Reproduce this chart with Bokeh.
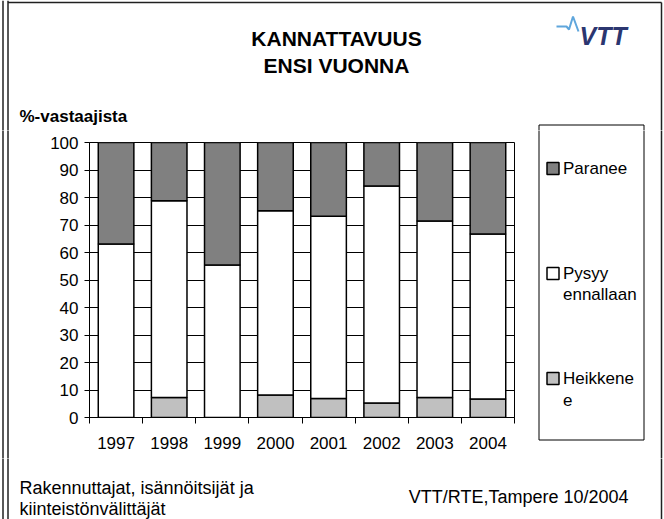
from bokeh.plotting import figure
from bokeh.layouts import column, row
from bokeh.models import FixedTicker, Range1d, ColumnDataSource
from bokeh.core.properties import value
from bokeh.embed import file_html
from bokeh.resources import INLINE

# ---------------- data ----------------
years = ["1997", "1998", "1999", "2000", "2001", "2002", "2003", "2004"]
heikkenee = [0.0, 7.3, 0.0, 8.2, 6.9, 5.3, 7.3, 6.7]
pysyy = [63.1, 71.5, 55.5, 67.0, 66.3, 78.9, 64.2, 60.0]
paranee = [36.9, 21.2, 44.5, 24.8, 26.8, 15.8, 28.5, 33.3]
y_ticks = [0, 10, 20, 30, 40, 50, 60, 70, 80, 90, 100]

series_keys = ["heikkenee", "pysyy", "paranee"]
series_colors = ["#c0c0c0", "#ffffff", "#808080"]
legend_texts = ["Paranee", "Pysyy\nennallaan", "Heikkene\ne"]
legend_colors = ["#808080", "#ffffff", "#c0c0c0"]

title_lines = ["KANNATTAVUUS", "ENSI VUONNA"]
y_label = "%-vastaajista"
footer_left = ["Rakennuttajat, isännöitsijät ja", "kiinteistönvälittäjät"]
footer_right = "VTT/RTE,Tampere 10/2004"
logo_text = "VTT"

FONT = "Liberation Sans"

# ---------------- layout (page pixels) ----------------
W, H = 664, 519
HEAD_H = 130          # head strip: y 0..130
MID_B = 458           # middle row: y 130..458
STRIP_W = 10          # left strip holding the double frame line
CHART_R = 530         # chart figure x 10..530, legend figure 530..664
FL, FR, FT, FB = 89, 514, 142, 417   # plot frame


def aux(x0, x1, y0, y1):
    f = figure(width=x1 - x0, height=y1 - y0, output_backend="svg", toolbar_location=None,
               x_range=Range1d(x0, x1), y_range=Range1d(y1, y0),
               x_axis_type=None, y_axis_type=None, min_border=0, frame_align=False)
    f.grid.visible = False
    f.outline_line_color = None
    f.background_fill_color = "white"
    f.border_fill_color = "white"
    return f


def txt(f, s, x, y, size="17px", align="left", style="normal", color="black"):
    f.text(x=[x], y=[y], text=[s], text_font=value(FONT), text_font_size=value(size),
           text_font_style=style, text_color=color, text_align=align,
           text_baseline="middle")


def shapes(f):
    # page frame (double line on the left)
    for xv in (2.5, 7.5):
        f.line(x=[xv, xv], y=[0, 600], line_color="#202020", line_width=1.5)
    f.line(x=[7.5, 661], y=[2, 2], line_color="#202020", line_width=1.5)
    f.line(x=[661, 661], y=[2, 600], line_color="#202020", line_width=1.5)
    # legend box and keys
    f.quad(left=[538.5], right=[643.5], top=[124.5], bottom=[439.5],
           fill_alpha=0, line_color="black", line_width=1)
    for k, col in enumerate(legend_colors):
        top = [162, 267, 372][k]
        f.quad(left=[546.5], right=[558.5], top=[top], bottom=[top + 12],
               fill_color=col, line_color="black", line_width=1.5)


head = aux(0, W, 0, HEAD_H)
strip = aux(0, STRIP_W, HEAD_H, MID_B)
leg = aux(CHART_R, W, HEAD_H, MID_B)
foot = aux(0, W, MID_B, H)
for f in (head, strip, leg, foot):
    shapes(f)

# head texts
txt(head, title_lines[0], 336, 38, size="21px", align="center", style="bold")
txt(head, title_lines[1], 336, 65, size="21px", align="center", style="bold")
txt(head, y_label, 19, 116, style="bold")
head.line(x=[556, 566, 568.5, 572.5, 578], y=[26, 26, 29, 16, 31],
          line_color="#5fa6dc", line_width=2)
txt(head, logo_text, 579, 35, size="25px", style="bold italic", color="#2b3670")

# legend texts
for k, t in enumerate(legend_texts):
    top = [162, 267, 372][k]
    for j, ln in enumerate(t.split("\n")):
        txt(leg, ln, 562.5, top + 6 + 21 * j)

# footer texts
txt(foot, footer_left[0], 19, 487, size="18px")
txt(foot, footer_left[1], 19, 508, size="18px")
txt(foot, footer_right, 628, 496, size="18px", align="right")

# ---------------- chart ----------------
xs = list(range(len(years)))
source = ColumnDataSource(dict(x=xs, heikkenee=heikkenee, pysyy=pysyy, paranee=paranee))

p = figure(width=CHART_R - STRIP_W, height=MID_B - HEAD_H, output_backend="svg",
           toolbar_location=None, frame_align=False,
           x_range=Range1d(-0.5, len(years) - 0.5), y_range=Range1d(0, 100),
           min_border_left=FL - STRIP_W, min_border_right=CHART_R - FR,
           min_border_top=FT - HEAD_H, min_border_bottom=MID_B - FB)
p.background_fill_color = "white"
p.border_fill_color = "white"
p.outline_line_color = "black"
p.outline_line_width = 1

p.vbar_stack(series_keys, x="x", width=0.67, color=series_colors,
             line_color="black", line_width=1.5, source=source)

yt = FixedTicker(ticks=y_ticks)
p.yaxis.ticker = yt
p.yaxis.axis_line_color = "black"
p.yaxis.major_tick_out = 5
p.yaxis.major_tick_in = 0
p.yaxis.minor_tick_line_color = None
p.yaxis.major_label_text_font = FONT
p.yaxis.major_label_text_font_size = "17px"
p.yaxis.major_label_text_color = "black"
p.yaxis.major_label_standoff = 6
p.ygrid.ticker = yt
p.ygrid.grid_line_color = "black"
p.ygrid.grid_line_width = 1
p.xgrid.visible = False

xt = FixedTicker(ticks=xs, minor_ticks=[i - 0.5 for i in range(len(years) + 1)])
p.xaxis.ticker = xt
p.xaxis.major_label_overrides = {i: y for i, y in enumerate(years)}
p.xaxis.major_tick_line_color = None
p.xaxis.major_tick_out = 6
p.xaxis.major_tick_in = 0
p.xaxis.minor_tick_out = 6
p.xaxis.minor_tick_in = 0
p.xaxis.minor_tick_line_color = "black"
p.xaxis.axis_line_color = "black"
p.xaxis.major_label_text_font = FONT
p.xaxis.major_label_text_font_size = "17px"
p.xaxis.major_label_text_color = "black"
p.xaxis.major_label_standoff = 13

layout = column(head, row(strip, p, leg, spacing=0), foot, spacing=0)

open("out.html", "w").write(file_html(layout, INLINE))
